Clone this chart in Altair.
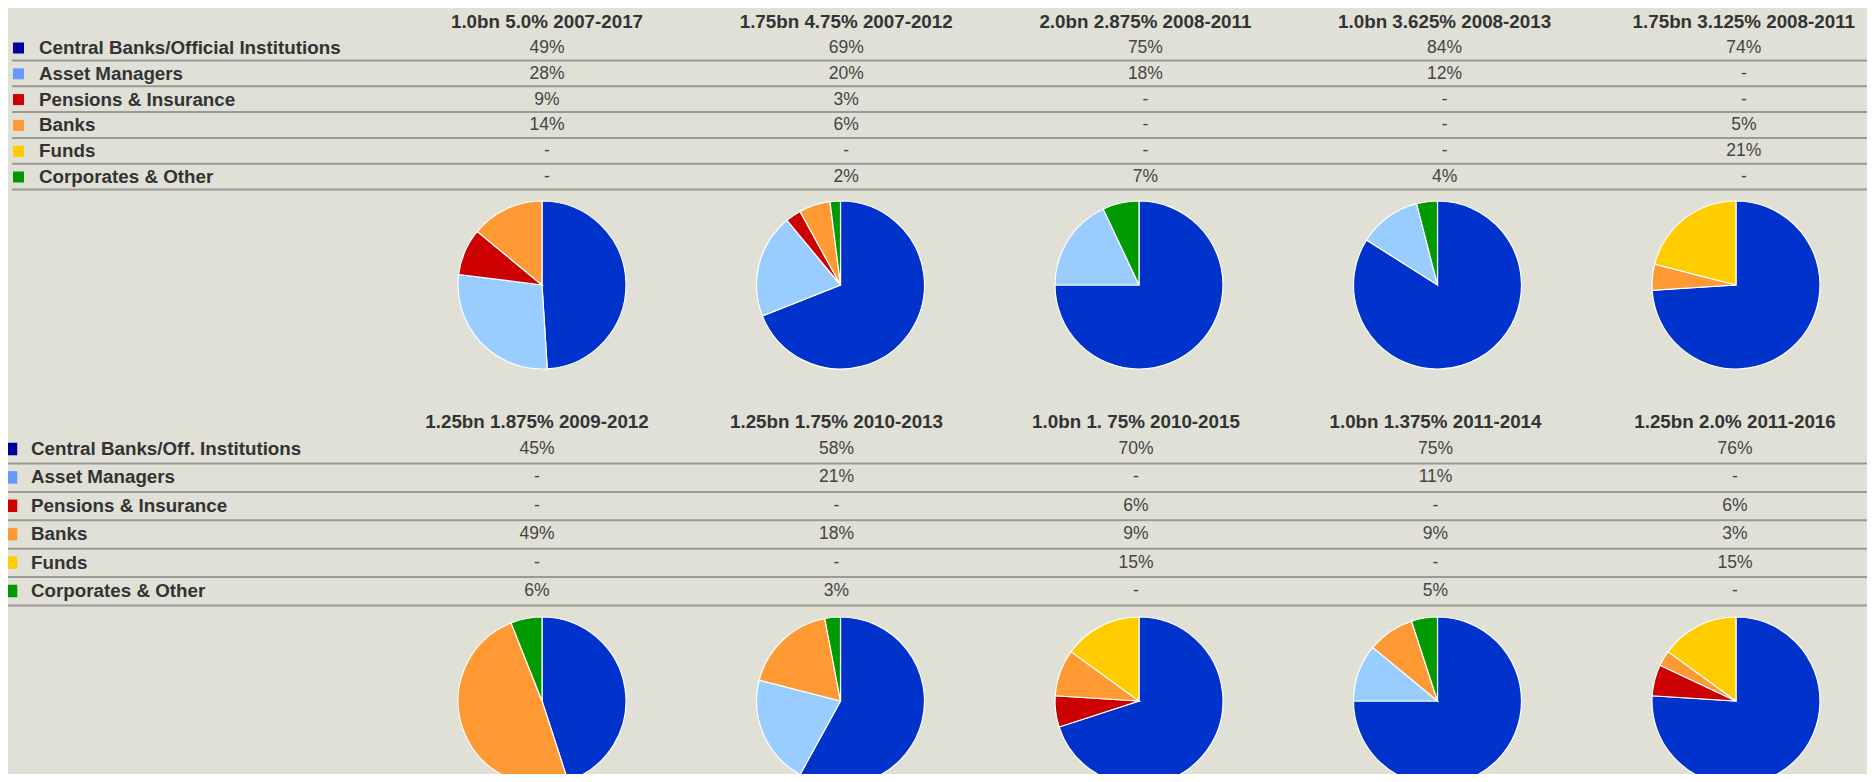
import altair as alt
import pandas as pd

# ---------------- data ----------------
category_keys = ["Central Banks", "Asset Managers", "Pensions & Insurance",
                 "Banks", "Funds", "Corporates & Other"]
labels_top = ["Central Banks/Official Institutions", "Asset Managers",
              "Pensions & Insurance", "Banks", "Funds", "Corporates & Other"]
labels_bottom = ["Central Banks/Off. Institutions", "Asset Managers",
                 "Pensions & Insurance", "Banks", "Funds", "Corporates & Other"]

issues_top = ["1.0bn 5.0% 2007-2017", "1.75bn 4.75% 2007-2012",
              "2.0bn 2.875% 2008-2011", "1.0bn 3.625% 2008-2013",
              "1.75bn 3.125% 2008-2011"]
issues_bottom = ["1.25bn 1.875% 2009-2012", "1.25bn 1.75% 2010-2013",
                 "1.0bn 1. 75% 2010-2015", "1.0bn 1.375% 2011-2014",
                 "1.25bn 2.0% 2011-2016"]

# rows = categories, columns = issues (None = "-")
values_top = [
    [49, 69, 75, 84, 74],
    [28, 20, 18, 12, None],
    [9, 3, None, None, None],
    [14, 6, None, None, 5],
    [None, None, None, None, 21],
    [None, 2, 7, 4, None],
]
values_bottom = [
    [45, 58, 70, 75, 76],
    [None, 21, None, 11, None],
    [None, None, 6, None, 6],
    [49, 18, 9, 9, 3],
    [None, None, 15, None, 15],
    [6, 3, None, 5, None],
]

# ---------------- styles / layout ----------------
PIE_COLORS = ["#0033CC", "#99CCFF", "#CC0000", "#FF9933", "#FFCC00", "#009900"]
KEY_COLORS = ["#000099", "#6699FF", "#CC0000", "#FF9933", "#FFCC00", "#009900"]
BG = "#E0E0D6"
W, H = 1859, 766
FONT = "Liberation Sans"

LAYOUT = [
    dict(header_y=14, row_y0=40, row_step=25.8, line_y0=52.5, col_x0=539,
         col_step=299.2, pie_x0=534, pie_step=298.5, pie_y=277, sq_x=10.5,
         sq_size=121, label_x=31, line_x1=4),
    dict(header_y=414, row_y0=441, row_step=28.4, line_y0=455.5, col_x0=529,
         col_step=299.5, pie_x0=534, pie_step=298.5, pie_y=693, sq_x=3,
         sq_size=156, label_x=23, line_x1=0),
]
sections = [(labels_top, issues_top, values_top),
            (labels_bottom, issues_bottom, values_bottom)]

headers, labels, squares, cells, lines, slices = [], [], [], [], [], []
for s, (labs, issues, vals) in enumerate(sections):
    L = LAYOUT[s]
    for c, name in enumerate(issues):
        headers.append(dict(text=name, x=L["col_x0"] + c * L["col_step"], y=L["header_y"]))
    for r, lab in enumerate(labs):
        ry = L["row_y0"] + r * L["row_step"]
        labels.append(dict(text=lab, x=L["label_x"], y=ry))
        squares.append(dict(key=category_keys[r], x=L["sq_x"], y=ry, size=L["sq_size"]))
        lines.append(dict(x=L["line_x1"], x2=W, y=L["line_y0"] + r * L["row_step"]))
        for c in range(len(issues)):
            v = vals[r][c]
            cells.append(dict(text="-" if v is None else f"{v}%",
                              x=L["col_x0"] + c * L["col_step"], y=ry))
            if v is not None:
                slices.append(dict(section=s, col=c, row=r, key=category_keys[r],
                                   value=v, x=L["pie_x0"] + c * L["pie_step"],
                                   y=L["pie_y"]))

XS = alt.Scale(domain=[0, W], nice=False, zero=False)
YS = alt.Scale(domain=[H, 0], nice=False, zero=False)
X = alt.X("x:Q", scale=XS, axis=None)
Y = alt.Y("y:Q", scale=YS, axis=None)

rules = alt.Chart(pd.DataFrame(lines)).mark_rule(
    color="#9A9A94", strokeWidth=2).encode(x=X, x2="x2:Q", y=Y)

sq = alt.Chart(pd.DataFrame(squares)).mark_square(opacity=1).encode(
    x=X, y=Y,
    size=alt.Size("size:Q", scale=None, legend=None),
    color=alt.Color("key:N", scale=alt.Scale(domain=category_keys, range=KEY_COLORS), legend=None),
)

lab = alt.Chart(pd.DataFrame(labels)).mark_text(
    align="left", baseline="middle", font=FONT, fontSize=18.8,
    fontWeight="bold", color="#333333").encode(x=X, y=Y, text="text:N")

hdr = alt.Chart(pd.DataFrame(headers)).mark_text(
    align="center", baseline="middle", font=FONT, fontSize=18.8,
    fontWeight="bold", color="#333333").encode(x=X, y=Y, text="text:N")

val = alt.Chart(pd.DataFrame(cells)).mark_text(
    align="center", baseline="middle", font=FONT, fontSize=17.5,
    color="#454545").encode(x=X, y=Y, text="text:N")

pies = alt.Chart(pd.DataFrame(slices)).transform_window(
    end="sum(value)", groupby=["section", "col"],
    sort=[alt.SortField("row")], frame=[None, 0]
).transform_calculate(start="datum.end - datum.value").mark_arc(
    outerRadius=84, stroke="white", strokeWidth=1.2
).encode(
    x=X, y=Y,
    theta=alt.Theta("start:Q", scale=alt.Scale(domain=[0, 100], range=[0, 6.283185307179586]), stack=None),
    theta2="end:Q",
    color=alt.Color("key:N", scale=alt.Scale(domain=category_keys, range=PIE_COLORS), legend=None),
)

chart = alt.layer(rules, pies, sq, lab, hdr, val).resolve_scale(
    color="independent"
).properties(
    width=W, height=H, padding=0, autosize="none", background=BG
).configure_view(stroke=None)

chart.save("out.html", embed_options={"renderer": "svg", "actions": False})
